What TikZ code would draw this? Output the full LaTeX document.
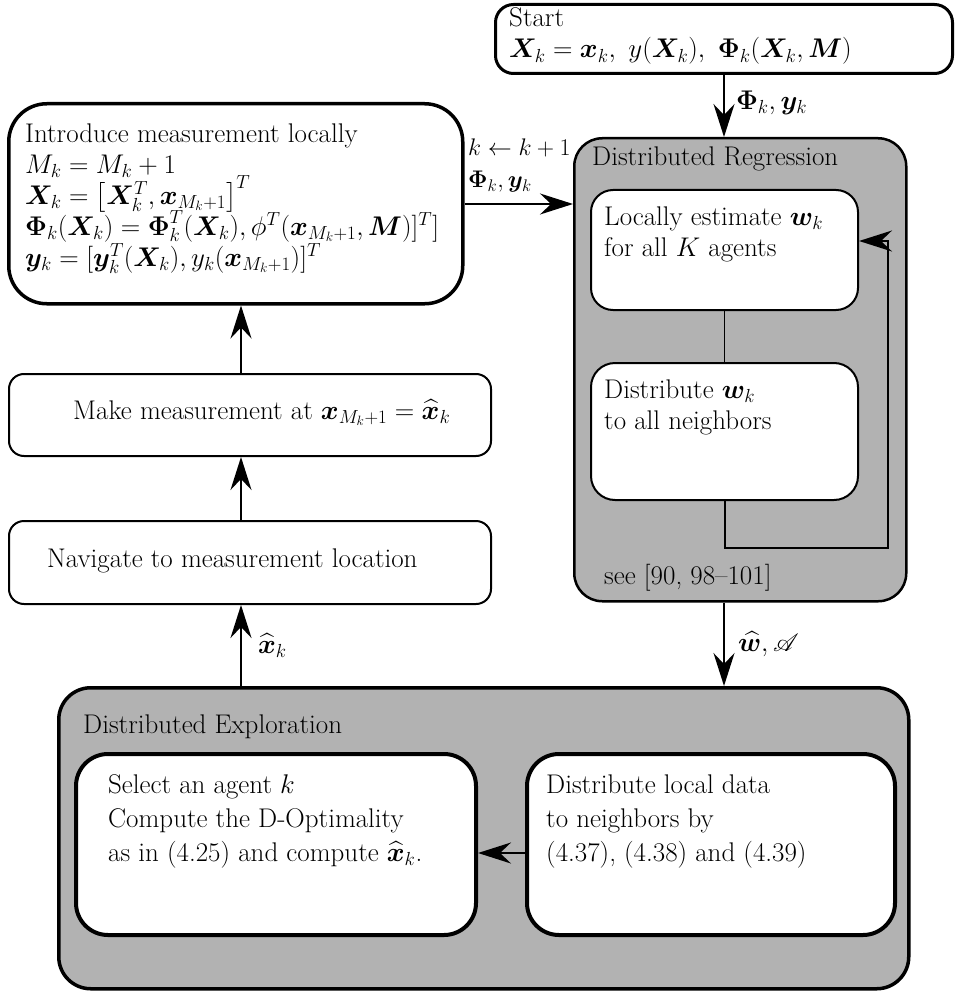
\documentclass[tikz,border=0pt]{standalone}
\usepackage{fix-cm}
\usepackage{amsmath,bm,mathrsfs}
\usepackage{fontspec}
\usetikzlibrary{arrows.meta,calc}

% fixed line pitch, even for lines carrying tall superscripts
\newcommand{\evenlines}{\lineskiplimit=-20pt\relax\lineskip=0pt\relax}

% multi-line text nodes are placed by the baseline of their last line
\tikzset{
  txt/.style={font=\fontsize{27}{31}\selectfont, inner sep=0pt, align=left},
  txtfixed/.style={font=\fontsize{27}{31}\selectfont\evenlines, inner sep=0pt, align=left},
  txtwide/.style={font=\fontsize{27}{34}\selectfont, inner sep=0pt, align=left},
  lbl/.style={font=\fontsize{24}{30}\selectfont, inner sep=0pt},
  plainbox/.style={draw, line width=2pt, fill=white, inner sep=0pt},
  heavybox/.style={draw, line width=3.5pt, fill=white, inner sep=0pt},
  groupbox/.style={draw, fill=black!30, inner sep=0pt},
  arr/.style={line width=2pt, -{Stealth[length=33pt,width=21pt,inset=11pt]}},
  link/.style={line width=1pt},
}

\begin{document}
\begin{tikzpicture}[x=1pt,y=-1pt]
\useasboundingbox (0,0) rectangle (954,995);

% ---------- start ----------
\node[heavybox, line width=3pt, rounded corners=18pt, minimum width=457pt, minimum height=69pt, anchor=north west] (start) at (494,3) {};
\node[txt, anchor=base west] (starttxt) at (509,58) {Start\\
$\bm{X}_k = \bm{x}_k,\ y(\bm{X}_k),\ \bm{\Phi}_k(\bm{X}_k, \bm{M})$};

% ---------- distributed regression ----------
\node[groupbox, line width=2.5pt, rounded corners=28pt, minimum width=332pt, minimum height=463pt, anchor=north west] (dr) at (573,137) {};
\node[txt, anchor=base west] (drtitle) at (592,166) {Distributed Regression};
\node[plainbox, rounded corners=22pt, minimum width=267pt, minimum height=120pt, anchor=north west] (est) at (590,189) {};
\node[txt, anchor=base west] (esttxt) at (604,256) {Locally estimate $\bm{w}_k$\\ for all $K$ agents};
\node[plainbox, rounded corners=24pt, minimum width=267pt, minimum height=137pt, anchor=north west] (dist) at (590,362) {};
\node[txt, anchor=base west] (disttxt) at (604,429) {Distribute $\bm{w}_k$\\ to all neighbors};
\node[txt, anchor=base west] (drref) at (604,584) {see [90, 98--101]};

\draw[link] (est.south) -- (dist.north);
\coordinate (fbcorner) at (888,548);
\coordinate (fbtop) at (888,241);
\draw[arr] (dist.south) |- (fbcorner) -- (fbtop) -- (fbtop -| est.east);

% ---------- left column ----------
\node[heavybox, rounded corners=38pt, minimum width=454pt, minimum height=200pt, anchor=north west] (intro) at (7,102) {};
\node[txtfixed, anchor=base west] (introtxt) at (25,266) {Introduce measurement locally\\
$M_k = M_k + 1$\\
$\bm{X}_k = \bigl[\bm{X}_k^T, \bm{x}_{M_k+1}\bigr]^T$\\
$\bm{\Phi}_k(\bm{X}_k) = \bm{\Phi}_k^T(\bm{X}_k), \phi^T(\bm{x}_{M_k+1}, \bm{M})]^T]$\\
$\bm{y}_k = [\bm{y}_k^T(\bm{X}_k), y_k(\bm{x}_{M_k+1})]^T$};

\node[plainbox, rounded corners=15pt, minimum width=482pt, minimum height=82pt, anchor=north west] (make) at (8,373) {};
\node[txt, anchor=base west] (maketxt) at (73,419) {Make measurement at $\bm{x}_{M_k+1} = \widehat{\bm{x}}_k$};

\node[plainbox, rounded corners=15pt, minimum width=482pt, minimum height=83pt, anchor=north west] (nav) at (8,520) {};
\node[txt, anchor=base west] (navtxt) at (47,567) {Navigate to measurement location};

% ---------- distributed exploration ----------
\node[groupbox, line width=3.5pt, rounded corners=32pt, minimum width=850pt, minimum height=301pt, anchor=north west] (de) at (57,686) {};
\node[txt, anchor=base west] (detitle) at (83,733) {Distributed Exploration};
\node[heavybox, line width=4pt, rounded corners=32pt, minimum width=400pt, minimum height=181pt, anchor=north west] (sel) at (74,752) {};
\node[txtwide, anchor=base west] (seltxt) at (108,861) {Select an agent $k$\\
Compute the D-Optimality\\
as in (4.25) and compute $\widehat{\bm{x}}_k$.};
\node[heavybox, line width=4pt, rounded corners=32pt, minimum width=368pt, minimum height=181pt, anchor=north west] (loc) at (525,752) {};
\node[txtwide, anchor=base west] (loctxt) at (546,861) {Distribute local data\\
to neighbors by\\
(4.37), (4.38) and (4.39)};

% ---------- connectors ----------
\coordinate (colx) at (241,0);
\draw[arr] (start.south) -- (start.south |- dr.north)
  node[txt, pos=0.45, anchor=west, xshift=11pt] (lblstart) {$\bm{\Phi}_k, \bm{y}_k$};
\draw[arr] (intro.east |- 0,204) -- (dr.west |- 0,204);
\node[lbl, anchor=west] (lblk) at (468,148) {$k \leftarrow k+1$};
\node[lbl, anchor=west] (lblphi) at (468,182) {$\bm{\Phi}_k, \bm{y}_k$};
\draw[arr] (colx |- make.north) -- (colx |- intro.south);
\draw[arr] (colx |- nav.north) -- (colx |- make.south);
\draw[arr] (colx |- de.north) -- (colx |- nav.south)
  node[txt, pos=0.5, anchor=west, xshift=16pt] (lblxhat) {$\widehat{\bm{x}}_k$};
\draw[arr] (dr.south -| start.south) -- (start.south |- de.north)
  node[txt, pos=0.5, anchor=west, xshift=13pt] (lblw) {$\widehat{\bm{w}}, \mathscr{A}$};
\draw[arr] (loc.west |- 0,853) -- (sel.east |- 0,853);
\end{tikzpicture}
\end{document}
